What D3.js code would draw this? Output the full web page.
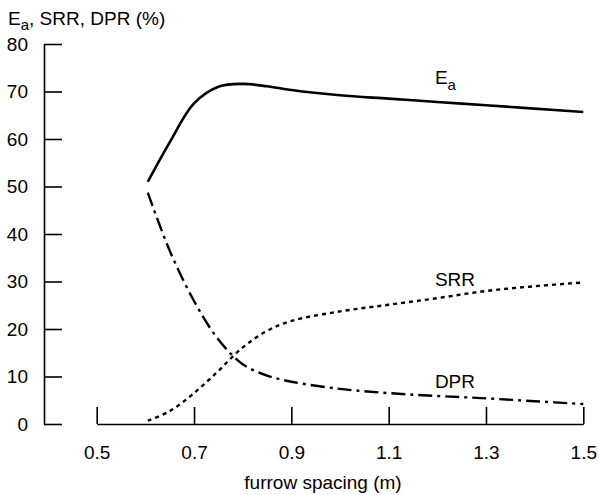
<!DOCTYPE html>
<html>
<head>
<meta charset="utf-8">
<title></title>
<script src="https://cdn.jsdelivr.net/npm/d3@7"></script>
<style>
body { margin: 0; background: #fff; }
svg text { font-family: "Liberation Sans", Arial, sans-serif; fill: #000; }
.axis path, .axis line { fill: none; stroke: #000; stroke-width: 1.6px; }
.axis text { font-size: 19px; }
</style>
</head>
<body>
<script>
// furrow spacing (m) and the three curves (%)
var spacing = [0.605, 0.65, 0.7, 0.75, 0.8, 0.85, 0.9, 1.0, 1.1, 1.2, 1.3, 1.4, 1.5];
var ea  = [51.0, 59.3, 67.5, 71.0, 71.6, 71.1, 70.3, 69.2, 68.5, 67.8, 67.1, 66.4, 65.7];
var srr = [0.7, 2.7, 6.5, 11.2, 16.1, 19.6, 21.7, 23.7, 25.1, 26.5, 28.0, 29.0, 29.8];
var dpr = [48.7, 36.5, 25.9, 17.8, 12.6, 10.2, 8.9, 7.4, 6.5, 5.9, 5.4, 4.8, 4.2];
var xTicks = [0.5, 0.7, 0.9, 1.1, 1.3, 1.5];
var yTicks = [0, 10, 20, 30, 40, 50, 60, 70, 80];

var svg = d3.select("body").append("svg")
    .attr("width", 599)
    .attr("height", 495);

var x = d3.scaleLinear().domain([0.5, 1.5]).range([96.7, 583.3]);
var y = d3.scaleLinear().domain([0, 80]).range([424, 44]);

// y axis: ticks point inward to the right
svg.append("g")
    .attr("class", "axis")
    .attr("transform", "translate(44,0)")
    .call(d3.axisLeft(y).tickValues(yTicks).tickSizeInner(-18).tickSizeOuter(0).tickPadding(16));

// x axis: starts at 0.5, ticks point up
svg.append("g")
    .attr("class", "axis")
    .attr("transform", "translate(0,424)")
    .call(d3.axisBottom(x).tickValues(xTicks).tickFormat(d3.format(".1f"))
        .tickSizeInner(-17).tickSizeOuter(0).tickPadding(22));

svg.selectAll(".axis text").attr("font-family", null);

function line(vals) {
    return d3.line()
        .x(function(d, i) { return x(spacing[i]); })
        .y(function(d) { return y(d); })
        .curve(d3.curveCatmullRom.alpha(0.5))(vals);
}

svg.append("path").attr("d", line(ea))
    .attr("fill", "none").attr("stroke", "#000").attr("stroke-width", 2.6);
svg.append("path").attr("d", line(srr))
    .attr("fill", "none").attr("stroke", "#000").attr("stroke-width", 2.4)
    .attr("stroke-dasharray", "4,4");
svg.append("path").attr("d", line(dpr))
    .attr("fill", "none").attr("stroke", "#000").attr("stroke-width", 2.4)
    .attr("stroke-dasharray", "14,5,3,5");

// curve labels
var ta = svg.append("text").attr("x", x(1.195)).attr("y", y(71.6)).style("font-size", "19px");
ta.append("tspan").text("E");
ta.append("tspan").attr("dy", 6).style("font-size", "15px").text("a");

svg.append("text").attr("x", x(1.195)).attr("y", y(29.1)).style("font-size", "19px").text("SRR");
svg.append("text").attr("x", x(1.195)).attr("y", y(7.6)).style("font-size", "19px").text("DPR");

// axis titles
var yt = svg.append("text").attr("x", 8).attr("y", 25).style("font-size", "19px");
yt.append("tspan").text("E");
yt.append("tspan").attr("dy", 5).style("font-size", "15px").text("a");
yt.append("tspan").attr("dy", -5).text(", SRR, DPR (%)");

svg.append("text").attr("x", 323).attr("y", 489).attr("text-anchor", "middle")
    .style("font-size", "19px").text("furrow spacing (m)");
</script>
</body>
</html>
